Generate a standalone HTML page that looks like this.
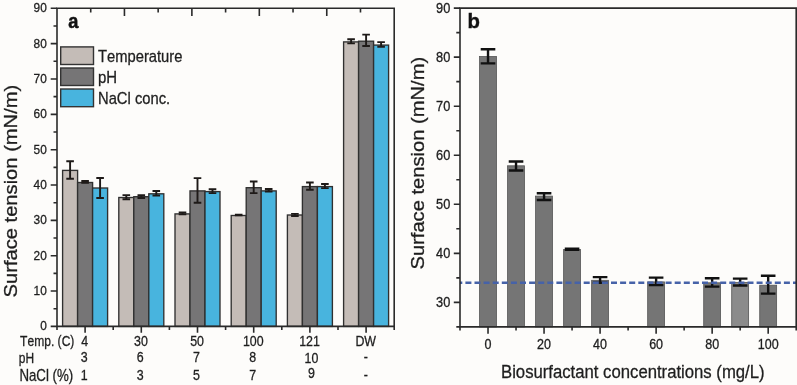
<!DOCTYPE html>
<html><head><meta charset="utf-8"><style>
html,body{margin:0;padding:0;background:#fdfcfa;}
svg{display:block;font-family:"Liberation Sans", sans-serif;will-change:transform;font-kerning:none;}
</style></head><body>
<svg width="797" height="385" viewBox="0 0 797 385">
<rect width="797" height="385" fill="#fdfcfa"/>
<rect x="62.60" y="170.40" width="15.00" height="156.00" fill="#c4bcb7" stroke="#303030" stroke-width="1.35"/>
<rect x="77.60" y="182.50" width="15.00" height="143.90" fill="#767576" stroke="#303030" stroke-width="1.35"/>
<rect x="92.60" y="188.00" width="15.00" height="138.40" fill="#48b4de" stroke="#303030" stroke-width="1.35"/>
<rect x="118.80" y="197.50" width="15.00" height="128.90" fill="#c4bcb7" stroke="#303030" stroke-width="1.35"/>
<rect x="133.80" y="196.70" width="15.00" height="129.70" fill="#767576" stroke="#303030" stroke-width="1.35"/>
<rect x="148.80" y="193.80" width="15.00" height="132.60" fill="#48b4de" stroke="#303030" stroke-width="1.35"/>
<rect x="175.00" y="213.90" width="15.00" height="112.50" fill="#c4bcb7" stroke="#303030" stroke-width="1.35"/>
<rect x="190.00" y="190.90" width="15.00" height="135.50" fill="#767576" stroke="#303030" stroke-width="1.35"/>
<rect x="205.00" y="191.60" width="15.00" height="134.80" fill="#48b4de" stroke="#303030" stroke-width="1.35"/>
<rect x="231.20" y="215.50" width="15.00" height="110.90" fill="#c4bcb7" stroke="#303030" stroke-width="1.35"/>
<rect x="246.20" y="187.70" width="15.00" height="138.70" fill="#767576" stroke="#303030" stroke-width="1.35"/>
<rect x="261.20" y="190.90" width="15.00" height="135.50" fill="#48b4de" stroke="#303030" stroke-width="1.35"/>
<rect x="287.40" y="215.00" width="15.00" height="111.40" fill="#c4bcb7" stroke="#303030" stroke-width="1.35"/>
<rect x="302.40" y="186.60" width="15.00" height="139.80" fill="#767576" stroke="#303030" stroke-width="1.35"/>
<rect x="317.40" y="186.60" width="15.00" height="139.80" fill="#48b4de" stroke="#303030" stroke-width="1.35"/>
<rect x="343.60" y="41.90" width="15.00" height="284.50" fill="#c4bcb7" stroke="#303030" stroke-width="1.35"/>
<rect x="358.60" y="41.20" width="15.00" height="285.20" fill="#767576" stroke="#303030" stroke-width="1.35"/>
<rect x="373.60" y="45.10" width="15.00" height="281.30" fill="#48b4de" stroke="#303030" stroke-width="1.35"/>
<path d="M70.10 161.20V178.80M66.30 161.20H73.90M66.30 178.80H73.90" stroke="#1e1a18" stroke-width="1.9" fill="none"/>
<path d="M85.10 181.00V182.90M81.30 181.00H88.90M81.30 182.90H88.90" stroke="#1e1a18" stroke-width="1.9" fill="none"/>
<path d="M100.10 178.00V198.00M96.30 178.00H103.90M96.30 198.00H103.90" stroke="#1e1a18" stroke-width="1.9" fill="none"/>
<path d="M126.30 195.10V199.20M122.50 195.10H130.10M122.50 199.20H130.10" stroke="#1e1a18" stroke-width="1.9" fill="none"/>
<path d="M141.30 195.20V198.00M137.50 195.20H145.10M137.50 198.00H145.10" stroke="#1e1a18" stroke-width="1.9" fill="none"/>
<path d="M156.30 191.00V195.50M152.50 191.00H160.10M152.50 195.50H160.10" stroke="#1e1a18" stroke-width="1.9" fill="none"/>
<path d="M182.50 212.40V214.40M178.70 212.40H186.30M178.70 214.40H186.30" stroke="#1e1a18" stroke-width="1.9" fill="none"/>
<path d="M197.50 178.10V202.70M193.70 178.10H201.30M193.70 202.70H201.30" stroke="#1e1a18" stroke-width="1.9" fill="none"/>
<path d="M212.50 189.30V193.10M208.70 189.30H216.30M208.70 193.10H216.30" stroke="#1e1a18" stroke-width="1.9" fill="none"/>
<path d="M238.70 214.60V215.40M234.90 214.60H242.50M234.90 215.40H242.50" stroke="#1e1a18" stroke-width="1.9" fill="none"/>
<path d="M253.70 181.50V193.10M249.90 181.50H257.50M249.90 193.10H257.50" stroke="#1e1a18" stroke-width="1.9" fill="none"/>
<path d="M268.70 189.00V191.50M264.90 189.00H272.50M264.90 191.50H272.50" stroke="#1e1a18" stroke-width="1.9" fill="none"/>
<path d="M294.90 213.90V216.00M291.10 213.90H298.70M291.10 216.00H298.70" stroke="#1e1a18" stroke-width="1.9" fill="none"/>
<path d="M309.90 182.50V189.70M306.10 182.50H313.70M306.10 189.70H313.70" stroke="#1e1a18" stroke-width="1.9" fill="none"/>
<path d="M324.90 184.00V188.10M321.10 184.00H328.70M321.10 188.10H328.70" stroke="#1e1a18" stroke-width="1.9" fill="none"/>
<path d="M351.10 39.30V43.40M347.30 39.30H354.90M347.30 43.40H354.90" stroke="#1e1a18" stroke-width="1.9" fill="none"/>
<path d="M366.10 34.60V46.00M362.30 34.60H369.90M362.30 46.00H369.90" stroke="#1e1a18" stroke-width="1.9" fill="none"/>
<path d="M381.10 42.10V46.80M377.30 42.10H384.90M377.30 46.80H384.90" stroke="#1e1a18" stroke-width="1.9" fill="none"/>
<path d="M57.0 8.3V326.4H394.2V8.3Z" fill="none" stroke="#2a2a2a" stroke-width="1.6"/>
<path d="M50.70 326.40H57.0 M53.50 308.73H57.0 M50.70 291.06H57.0 M53.50 273.38H57.0 M50.70 255.71H57.0 M53.50 238.04H57.0 M50.70 220.37H57.0 M53.50 202.69H57.0 M50.70 185.02H57.0 M53.50 167.35H57.0 M50.70 149.68H57.0 M53.50 132.01H57.0 M50.70 114.33H57.0 M53.50 96.66H57.0 M50.70 78.99H57.0 M53.50 61.32H57.0 M50.70 43.64H57.0 M53.50 25.97H57.0 M50.70 8.30H57.0 M57.00 326.4V330.00 M113.20 326.4V330.00 M169.40 326.4V330.00 M225.60 326.4V330.00 M281.80 326.4V330.00 M338.00 326.4V330.00 M394.20 326.4V330.00 M85.10 326.4V332.70 M141.30 326.4V332.70 M197.50 326.4V332.70 M253.70 326.4V332.70 M309.90 326.4V332.70 M366.10 326.4V332.70 M90.72 8.3V12.50 M124.44 8.3V15.90 M158.16 8.3V12.50 M191.88 8.3V15.90 M225.60 8.3V12.50 M259.32 8.3V15.90 M293.04 8.3V12.50 M326.76 8.3V15.90 M360.48 8.3V12.50" stroke="#2a2a2a" stroke-width="1.6" fill="none"/>
<text transform="translate(46.80 330.40) scale(0.9 1)" font-size="13.2" text-anchor="end" fill="#1e1e1e" stroke="#1e1e1e" stroke-width="0.3">0</text>
<text transform="translate(46.80 295.06) scale(0.9 1)" font-size="13.2" text-anchor="end" fill="#1e1e1e" stroke="#1e1e1e" stroke-width="0.3">10</text>
<text transform="translate(46.80 259.71) scale(0.9 1)" font-size="13.2" text-anchor="end" fill="#1e1e1e" stroke="#1e1e1e" stroke-width="0.3">20</text>
<text transform="translate(46.80 224.37) scale(0.9 1)" font-size="13.2" text-anchor="end" fill="#1e1e1e" stroke="#1e1e1e" stroke-width="0.3">30</text>
<text transform="translate(46.80 189.02) scale(0.9 1)" font-size="13.2" text-anchor="end" fill="#1e1e1e" stroke="#1e1e1e" stroke-width="0.3">40</text>
<text transform="translate(46.80 153.68) scale(0.9 1)" font-size="13.2" text-anchor="end" fill="#1e1e1e" stroke="#1e1e1e" stroke-width="0.3">50</text>
<text transform="translate(46.80 118.33) scale(0.9 1)" font-size="13.2" text-anchor="end" fill="#1e1e1e" stroke="#1e1e1e" stroke-width="0.3">60</text>
<text transform="translate(46.80 82.99) scale(0.9 1)" font-size="13.2" text-anchor="end" fill="#1e1e1e" stroke="#1e1e1e" stroke-width="0.3">70</text>
<text transform="translate(46.80 47.64) scale(0.9 1)" font-size="13.2" text-anchor="end" fill="#1e1e1e" stroke="#1e1e1e" stroke-width="0.3">80</text>
<text transform="translate(46.80 12.30) scale(0.9 1)" font-size="13.2" text-anchor="end" fill="#1e1e1e" stroke="#1e1e1e" stroke-width="0.3">90</text>
<text transform="translate(20.10 345.90) scale(0.81 1)" font-size="14.9" fill="#1e1e1e" stroke="#1e1e1e" stroke-width="0.3">Temp. (C)</text>
<text transform="translate(84.70 346.20) scale(0.85 1)" font-size="14.6" text-anchor="middle" fill="#1e1e1e" stroke="#1e1e1e" stroke-width="0.3">4</text>
<text transform="translate(140.90 346.20) scale(0.85 1)" font-size="14.6" text-anchor="middle" fill="#1e1e1e" stroke="#1e1e1e" stroke-width="0.3">30</text>
<text transform="translate(197.10 346.20) scale(0.85 1)" font-size="14.6" text-anchor="middle" fill="#1e1e1e" stroke="#1e1e1e" stroke-width="0.3">50</text>
<text transform="translate(253.30 346.20) scale(0.85 1)" font-size="14.6" text-anchor="middle" fill="#1e1e1e" stroke="#1e1e1e" stroke-width="0.3">100</text>
<text transform="translate(309.50 346.20) scale(0.85 1)" font-size="14.6" text-anchor="middle" fill="#1e1e1e" stroke="#1e1e1e" stroke-width="0.3">121</text>
<text transform="translate(365.70 346.20) scale(0.85 1)" font-size="14.6" text-anchor="middle" fill="#1e1e1e" stroke="#1e1e1e" stroke-width="0.3">DW</text>
<text transform="translate(18.80 363.30) scale(0.83 1)" font-size="14.4" fill="#1e1e1e" stroke="#1e1e1e" stroke-width="0.3">pH</text>
<text transform="translate(84.10 362.00) scale(0.85 1)" font-size="14.6" text-anchor="middle" fill="#1e1e1e" stroke="#1e1e1e" stroke-width="0.3">3</text>
<text transform="translate(140.30 362.00) scale(0.85 1)" font-size="14.6" text-anchor="middle" fill="#1e1e1e" stroke="#1e1e1e" stroke-width="0.3">6</text>
<text transform="translate(196.50 362.00) scale(0.85 1)" font-size="14.6" text-anchor="middle" fill="#1e1e1e" stroke="#1e1e1e" stroke-width="0.3">7</text>
<text transform="translate(252.70 361.50) scale(0.85 1)" font-size="14.6" text-anchor="middle" fill="#1e1e1e" stroke="#1e1e1e" stroke-width="0.3">8</text>
<text transform="translate(311.50 362.50) scale(0.85 1)" font-size="14.6" text-anchor="middle" fill="#1e1e1e" stroke="#1e1e1e" stroke-width="0.3">10</text>
<text transform="translate(365.70 362.00) scale(0.85 1)" font-size="14.6" text-anchor="middle" fill="#1e1e1e" stroke="#1e1e1e" stroke-width="0.3">-</text>
<text transform="translate(19.40 380.50) scale(0.845 1)" font-size="15.7" fill="#1e1e1e" stroke="#1e1e1e" stroke-width="0.3">NaCl (%)</text>
<text transform="translate(84.10 379.80) scale(0.85 1)" font-size="14.6" text-anchor="middle" fill="#1e1e1e" stroke="#1e1e1e" stroke-width="0.3">1</text>
<text transform="translate(140.30 379.80) scale(0.85 1)" font-size="14.6" text-anchor="middle" fill="#1e1e1e" stroke="#1e1e1e" stroke-width="0.3">3</text>
<text transform="translate(196.50 379.80) scale(0.85 1)" font-size="14.6" text-anchor="middle" fill="#1e1e1e" stroke="#1e1e1e" stroke-width="0.3">5</text>
<text transform="translate(252.70 379.80) scale(0.85 1)" font-size="14.6" text-anchor="middle" fill="#1e1e1e" stroke="#1e1e1e" stroke-width="0.3">7</text>
<text transform="translate(311.40 377.80) scale(0.85 1)" font-size="14.6" text-anchor="middle" fill="#1e1e1e" stroke="#1e1e1e" stroke-width="0.3">9</text>
<text transform="translate(365.70 379.80) scale(0.85 1)" font-size="14.6" text-anchor="middle" fill="#1e1e1e" stroke="#1e1e1e" stroke-width="0.3">-</text>
<rect x="60.7" y="46.90" width="32.8" height="17.60" fill="#c4bcb7" stroke="#333" stroke-width="1.4"/>
<text transform="translate(98.00 61.90) scale(0.848 1)" font-size="17.4" fill="#1e1e1e" stroke="#1e1e1e" stroke-width="0.3">Temperature</text>
<rect x="60.7" y="68.00" width="32.8" height="17.50" fill="#767576" stroke="#333" stroke-width="1.4"/>
<text transform="translate(98.00 83.00) scale(0.86 1)" font-size="17.4" fill="#1e1e1e" stroke="#1e1e1e" stroke-width="0.3">pH</text>
<rect x="60.7" y="89.00" width="32.8" height="17.70" fill="#48b4de" stroke="#333" stroke-width="1.4"/>
<text transform="translate(98.00 103.90) scale(0.848 1)" font-size="17.4" fill="#1e1e1e" stroke="#1e1e1e" stroke-width="0.3">NaCl conc.</text>
<text transform="translate(68.20 27.80) scale(0.93 1)" font-size="19.6" font-weight="bold" fill="#111" stroke="#111" stroke-width="0.5">a</text>
<text transform="translate(17.40 191.10) rotate(-90) scale(1.108 1)" font-size="18.2" text-anchor="middle" fill="#1e1e1e" stroke="#1e1e1e" stroke-width="0.3">Surface tension (mN/m)</text>
<rect x="479.57" y="56.50" width="16.90" height="270.40" fill="#757575" stroke="#555" stroke-width="0.8"/>
<rect x="507.58" y="165.80" width="16.90" height="161.10" fill="#757575" stroke="#555" stroke-width="0.8"/>
<rect x="535.60" y="196.10" width="16.90" height="130.80" fill="#757575" stroke="#555" stroke-width="0.8"/>
<rect x="563.62" y="249.40" width="16.90" height="77.50" fill="#757575" stroke="#555" stroke-width="0.8"/>
<rect x="591.63" y="280.30" width="16.90" height="46.60" fill="#757575" stroke="#555" stroke-width="0.8"/>
<rect x="647.67" y="281.90" width="16.90" height="45.00" fill="#757575" stroke="#555" stroke-width="0.8"/>
<rect x="703.70" y="282.80" width="16.90" height="44.10" fill="#757575" stroke="#555" stroke-width="0.8"/>
<rect x="731.72" y="282.40" width="16.90" height="44.50" fill="#8b8b8b" stroke="#555" stroke-width="0.8"/>
<rect x="759.73" y="285.20" width="16.90" height="41.70" fill="#757575" stroke="#555" stroke-width="0.8"/>
<path d="M488.02 49.30V63.40M480.72 49.30H495.32M480.72 63.40H495.32" stroke="#111" stroke-width="2.4" fill="none"/>
<path d="M516.03 161.50V170.50M508.73 161.50H523.33M508.73 170.50H523.33" stroke="#111" stroke-width="2.4" fill="none"/>
<path d="M544.05 193.30V200.00M536.75 193.30H551.35M536.75 200.00H551.35" stroke="#111" stroke-width="2.4" fill="none"/>
<path d="M572.07 248.60V249.90M564.77 248.60H579.37M564.77 249.90H579.37" stroke="#111" stroke-width="2.4" fill="none"/>
<path d="M600.08 277.10V282.70M592.78 277.10H607.38M592.78 282.70H607.38" stroke="#111" stroke-width="2.4" fill="none"/>
<path d="M656.12 277.60V285.10M648.82 277.60H663.42M648.82 285.10H663.42" stroke="#111" stroke-width="2.4" fill="none"/>
<path d="M712.15 278.20V286.60M704.85 278.20H719.45M704.85 286.60H719.45" stroke="#111" stroke-width="2.4" fill="none"/>
<path d="M740.17 278.60V285.50M732.87 278.60H747.47M732.87 285.50H747.47" stroke="#111" stroke-width="2.4" fill="none"/>
<path d="M768.18 275.70V293.60M760.88 275.70H775.48M760.88 293.60H775.48" stroke="#111" stroke-width="2.4" fill="none"/>
<path d="M460.0 282.7H796.2" stroke="#4662a8" stroke-width="2.5" stroke-dasharray="6 3.1" stroke-dashoffset="3.7" fill="none"/>
<path d="M460.0 8.1V326.9H796.2V8.1Z" fill="none" stroke="#2a2a2a" stroke-width="1.6"/>
<path d="M456.30 326.90H460.0 M453.80 302.38H460.0 M456.30 277.85H460.0 M453.80 253.33H460.0 M456.30 228.81H460.0 M453.80 204.28H460.0 M456.30 179.76H460.0 M453.80 155.24H460.0 M456.30 130.72H460.0 M453.80 106.19H460.0 M456.30 81.67H460.0 M453.80 57.15H460.0 M456.30 32.62H460.0 M453.80 8.10H460.0 M460.00 326.9V330.50 M488.02 326.9V333.70 M516.03 326.9V330.50 M544.05 326.9V333.70 M572.07 326.9V330.50 M600.08 326.9V333.70 M628.10 326.9V330.50 M656.12 326.9V333.70 M684.13 326.9V330.50 M712.15 326.9V333.70 M740.17 326.9V330.50 M768.18 326.9V333.70 M796.20 326.9V330.50" stroke="#2a2a2a" stroke-width="1.6" fill="none"/>
<text transform="translate(450.30 306.88) scale(0.92 1)" font-size="13.9" text-anchor="end" fill="#1e1e1e" stroke="#1e1e1e" stroke-width="0.3">30</text>
<text transform="translate(450.30 257.83) scale(0.92 1)" font-size="13.9" text-anchor="end" fill="#1e1e1e" stroke="#1e1e1e" stroke-width="0.3">40</text>
<text transform="translate(450.30 208.78) scale(0.92 1)" font-size="13.9" text-anchor="end" fill="#1e1e1e" stroke="#1e1e1e" stroke-width="0.3">50</text>
<text transform="translate(450.30 159.74) scale(0.92 1)" font-size="13.9" text-anchor="end" fill="#1e1e1e" stroke="#1e1e1e" stroke-width="0.3">60</text>
<text transform="translate(450.30 110.69) scale(0.92 1)" font-size="13.9" text-anchor="end" fill="#1e1e1e" stroke="#1e1e1e" stroke-width="0.3">70</text>
<text transform="translate(450.30 61.65) scale(0.92 1)" font-size="13.9" text-anchor="end" fill="#1e1e1e" stroke="#1e1e1e" stroke-width="0.3">80</text>
<text transform="translate(450.30 12.60) scale(0.92 1)" font-size="13.9" text-anchor="end" fill="#1e1e1e" stroke="#1e1e1e" stroke-width="0.3">90</text>
<text transform="translate(488.02 348.90) scale(0.9 1)" font-size="13.9" text-anchor="middle" fill="#1e1e1e" stroke="#1e1e1e" stroke-width="0.3">0</text>
<text transform="translate(544.05 348.90) scale(0.9 1)" font-size="13.9" text-anchor="middle" fill="#1e1e1e" stroke="#1e1e1e" stroke-width="0.3">20</text>
<text transform="translate(600.08 348.90) scale(0.9 1)" font-size="13.9" text-anchor="middle" fill="#1e1e1e" stroke="#1e1e1e" stroke-width="0.3">40</text>
<text transform="translate(656.12 348.90) scale(0.9 1)" font-size="13.9" text-anchor="middle" fill="#1e1e1e" stroke="#1e1e1e" stroke-width="0.3">60</text>
<text transform="translate(712.15 348.90) scale(0.9 1)" font-size="13.9" text-anchor="middle" fill="#1e1e1e" stroke="#1e1e1e" stroke-width="0.3">80</text>
<text transform="translate(768.18 348.90) scale(0.9 1)" font-size="13.9" text-anchor="middle" fill="#1e1e1e" stroke="#1e1e1e" stroke-width="0.3">100</text>
<text transform="translate(501.00 377.70) scale(0.88 1)" font-size="19.0" fill="#1e1e1e" stroke="#1e1e1e" stroke-width="0.3">Biosurfactant concentrations (mg/L)</text>
<text transform="translate(423.70 163.20) rotate(-90) scale(1.108 1)" font-size="18.2" text-anchor="middle" fill="#1e1e1e" stroke="#1e1e1e" stroke-width="0.3">Surface tension (mN/m)</text>
<text transform="translate(467.40 27.60)" font-size="20.3" font-weight="bold" fill="#111" stroke="#111" stroke-width="0.4">b</text>
</svg>
</body></html>
